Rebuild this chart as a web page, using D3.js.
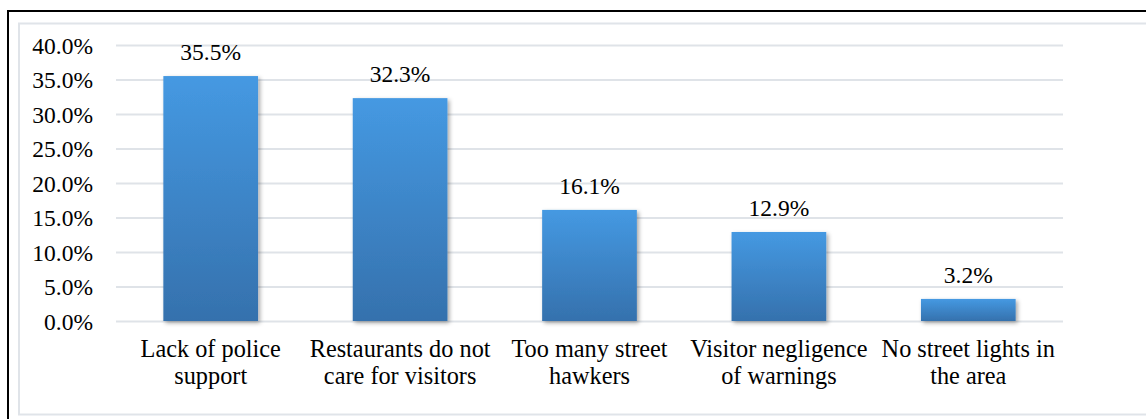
<!DOCTYPE html>
<html>
<head>
<meta charset="utf-8">
<script src="https://cdn.jsdelivr.net/npm/d3@7"></script>
<style>
  html, body { margin: 0; padding: 0; background: #fff; }
  svg { display: block; }
  svg text { font-family: "Liberation Serif", "Times New Roman", Times, serif !important; fill: #000; }
</style>
</head>
<body>
<svg id="chart" width="1146" height="419"></svg>
<script>
const categories = [
  "Lack of police\nsupport",
  "Restaurants do not\ncare for visitors",
  "Too many street\nhawkers",
  "Visitor negligence\nof warnings",
  "No street lights in\nthe area"
];
const values = [35.5, 32.3, 16.1, 12.9, 3.2];
const yTicks = [0, 5, 10, 15, 20, 25, 30, 35, 40];

const FONT = "'Liberation Serif', 'Times New Roman', Times, serif";
const FS = 23.5;
const FS_CAT = 24.3;

const svg = d3.select("#chart");
const W = 1146, H = 419;

// outer black frame
svg.append("rect").attr("x", 8).attr("y", 11).attr("width", W + 20).attr("height", H + 20)
  .attr("fill", "none").attr("stroke", "#000").attr("stroke-width", 2);
// inner chart-area border
svg.append("rect").attr("x", 19).attr("y", 23.5).attr("width", W + 20).attr("height", 391)
  .attr("fill", "none").attr("stroke", "#e0e4e9").attr("stroke-width", 2);

const margin = { left: 116, right: 1063, top: 45, bottom: 321 };

const x = d3.scaleBand().domain(categories).range([margin.left, margin.right]).paddingInner(0.5).paddingOuter(0.25);
const y = d3.scaleLinear().domain([0, 40]).range([margin.bottom, margin.top]);

const defs = svg.append("defs");
const grad = defs.append("linearGradient").attr("id", "barGrad")
  .attr("x1", 0).attr("y1", 0).attr("x2", 0).attr("y2", 1);
grad.append("stop").attr("offset", "0%").attr("stop-color", "#4599e2");
grad.append("stop").attr("offset", "100%").attr("stop-color", "#3571ad");

const filt = defs.append("filter").attr("id", "shadow")
  .attr("x", "-20%").attr("y", "-20%").attr("width", "150%").attr("height", "150%");
filt.append("feDropShadow").attr("dx", 2).attr("dy", 2).attr("stdDeviation", 2)
  .attr("flood-color", "#000").attr("flood-opacity", 0.35);

// gridlines + y tick labels
const yAxis = d3.axisLeft(y).tickValues(yTicks).tickSize(-(margin.right - margin.left))
  .tickFormat(d => d.toFixed(1) + "%").tickPadding(23);
const gy = svg.append("g").attr("transform", `translate(${margin.left},0)`)
  .call(yAxis).attr("font-family", FONT).attr("font-size", FS);
gy.select(".domain").remove();
gy.selectAll(".tick line").attr("stroke", "#dfe3e8").attr("stroke-width", 2);
gy.selectAll(".tick text").style("font-family", FONT).style("font-size", FS + "px")
  .attr("fill", "#000").attr("dy", "0.34em");

// bars
svg.append("g").selectAll("rect").data(values).join("rect")
  .attr("x", (d, i) => x(categories[i]))
  .attr("y", d => y(d))
  .attr("width", x.bandwidth())
  .attr("height", d => y(0) - y(d))
  .attr("fill", "url(#barGrad)")
  .attr("filter", "url(#shadow)");

// value labels
svg.append("g").selectAll("text").data(values).join("text")
  .attr("x", (d, i) => x(categories[i]) + x.bandwidth() / 2)
  .attr("y", d => y(d) - 16)
  .attr("text-anchor", "middle")
  .style("font-family", FONT).style("font-size", FS + "px")
  .text(d => d.toFixed(1) + "%");

// category labels
const xAxis = d3.axisBottom(x).tickSize(0).tickFormat("");
const gx = svg.append("g").attr("transform", `translate(0,${margin.bottom})`)
  .call(xAxis).attr("font-family", FONT).attr("font-size", FS_CAT);
gx.select(".domain").remove();
gx.selectAll(".tick").each(function (d) {
  const t = d3.select(this).append("text")
    .attr("text-anchor", "middle")
    .style("font-family", FONT).style("font-size", FS_CAT + "px").attr("fill", "#000");
  d.split("\n").forEach((line, i) => {
    t.append("tspan").attr("x", 0).attr("y", 36 + i * 27).text(line);
  });
});
</script>
</body>
</html>
